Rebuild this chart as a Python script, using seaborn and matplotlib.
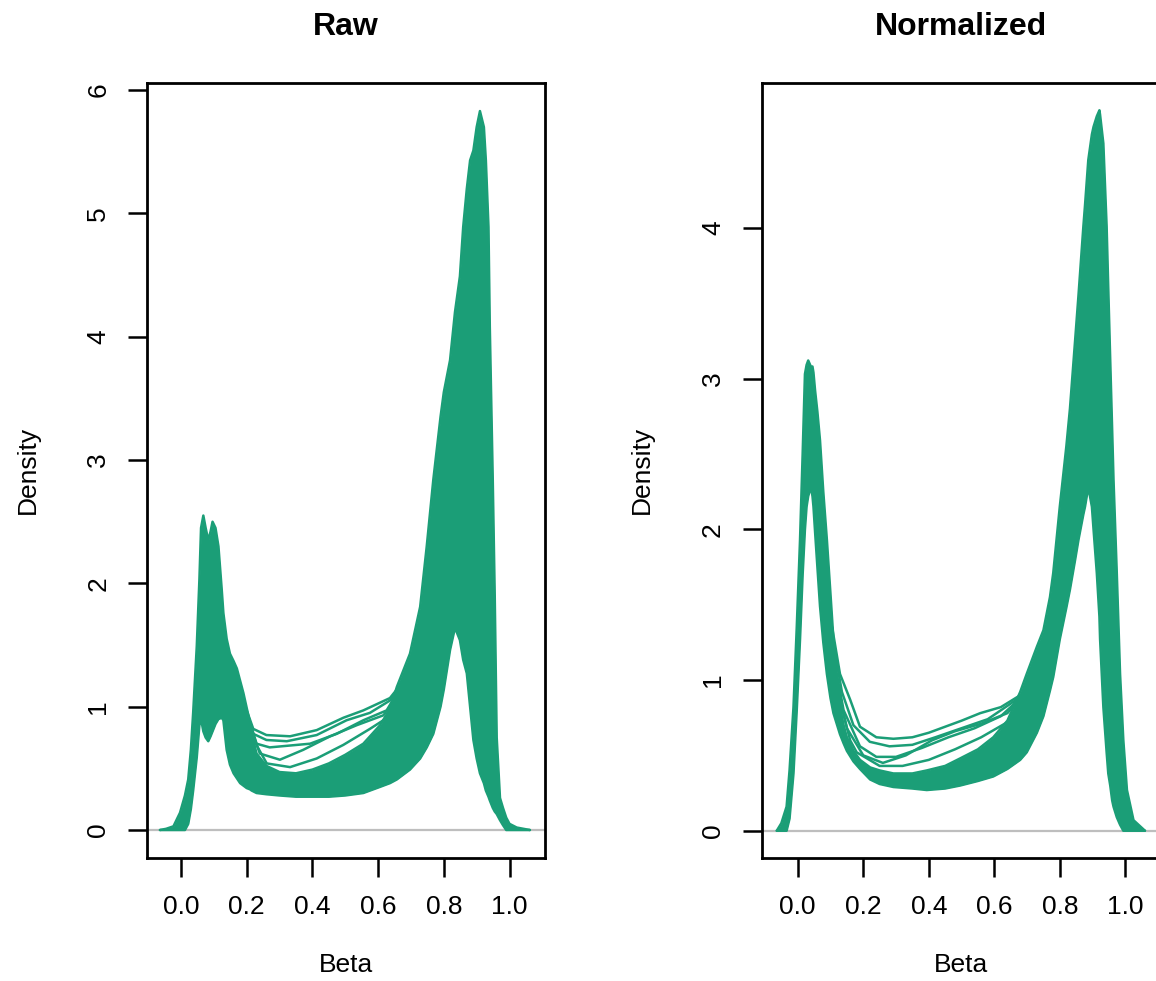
import matplotlib
matplotlib.use("Agg")
import matplotlib.pyplot as plt
import seaborn as sns

GREEN = "#1B9E77"

# ----- Raw panel: envelope of all sample density curves -----
raw_x = [-0.064, -0.045, -0.023, -0.003, 0.012, 0.022, 0.030, 0.037, 0.048, 0.056,
         0.061, 0.068, 0.075, 0.083, 0.090, 0.096, 0.105, 0.114, 0.124, 0.129,
         0.139, 0.149, 0.160, 0.170, 0.180, 0.190, 0.200, 0.210, 0.215, 0.230,
         0.260, 0.300, 0.350, 0.400, 0.450, 0.500, 0.555, 0.606, 0.636, 0.657,
         0.697, 0.728, 0.748, 0.768, 0.790, 0.800, 0.819, 0.834, 0.849, 0.859,
         0.870, 0.880, 0.890, 0.900, 0.910, 0.922, 0.928, 0.936, 0.940, 0.949,
         0.955, 0.961, 0.971, 0.980, 0.990, 1.000, 1.022, 1.062]
raw_low = [0, 0, 0, 0, 0, 0.05, 0.17, 0.32, 0.59, 0.85,
           0.90, 0.80, 0.75, 0.72, 0.76, 0.80, 0.86, 0.90, 0.91, 0.89,
           0.65, 0.53, 0.46, 0.42, 0.38, 0.36, 0.34, 0.33, 0.32, 0.30,
           0.29, 0.28, 0.27, 0.27, 0.27, 0.28, 0.30, 0.35, 0.38, 0.41,
           0.49, 0.58, 0.67, 0.78, 1.00, 1.14, 1.46, 1.64, 1.54, 1.38,
           1.27, 1.00, 0.73, 0.58, 0.46, 0.38, 0.32, 0.27, 0.24, 0.18,
           0.15, 0.13, 0.08, 0.04, 0, 0, 0, 0]
raw_high = [0, 0.01, 0.03, 0.14, 0.28, 0.41, 0.65, 0.95, 1.49, 2.03,
            2.45, 2.55, 2.45, 2.35, 2.42, 2.50, 2.45, 2.30, 1.95, 1.76,
            1.55, 1.43, 1.37, 1.31, 1.21, 1.11, 0.99, 0.87, 0.78, 0.62,
            0.52, 0.47, 0.46, 0.49, 0.54, 0.61, 0.70, 0.85, 0.98, 1.16,
            1.43, 1.81, 2.30, 2.84, 3.35, 3.55, 3.81, 4.20, 4.49, 4.89,
            5.20, 5.43, 5.51, 5.70, 5.83, 5.70, 5.43, 4.89, 4.08, 2.84,
            1.90, 0.75, 0.26, 0.18, 0.10, 0.05, 0.02, 0]

# separate samples lying above the bulk in the valley
raw_a_x = [0.200, 0.220, 0.260, 0.332, 0.413, 0.494, 0.555, 0.636, 0.660]
raw_a_y = [0.97, 0.82, 0.77, 0.76, 0.81, 0.91, 0.97, 1.07, 1.15]
raw_b_x = [0.200, 0.220, 0.260, 0.322, 0.413, 0.504, 0.575, 0.636, 0.660]
raw_b_y = [0.95, 0.78, 0.73, 0.72, 0.77, 0.89, 0.95, 1.05, 1.13]
raw_c_x = [0.205, 0.230, 0.270, 0.311, 0.393, 0.474, 0.555, 0.626, 0.655]
raw_c_y = [0.92, 0.70, 0.67, 0.68, 0.70, 0.78, 0.89, 0.97, 1.10]
raw_d_x = [0.210, 0.240, 0.301, 0.372, 0.454, 0.535, 0.616, 0.650]
raw_d_y = [0.85, 0.62, 0.57, 0.65, 0.76, 0.85, 0.93, 1.05]
raw_e_x = [0.215, 0.261, 0.332, 0.413, 0.494, 0.575, 0.616, 0.645]
raw_e_y = [0.76, 0.54, 0.51, 0.58, 0.69, 0.82, 0.89, 1.00]

# ----- Normalized panel -----
norm_x = [-0.064, -0.050, -0.034, -0.025, -0.013, -0.003, 0.007, 0.015, 0.022, 0.027,
          0.032, 0.040, 0.045, 0.048, 0.053, 0.060, 0.068, 0.078, 0.089, 0.100,
          0.109, 0.119, 0.129, 0.140, 0.150, 0.170, 0.190, 0.221, 0.250, 0.292,
          0.350, 0.394, 0.450, 0.496, 0.550, 0.597, 0.640, 0.679, 0.699, 0.730,
          0.750, 0.770, 0.780, 0.800, 0.820, 0.831, 0.847, 0.857, 0.872, 0.877,
          0.887, 0.898, 0.903, 0.913, 0.921, 0.923, 0.933, 0.943, 0.948, 0.954,
          0.960, 0.964, 0.974, 0.984, 0.994, 1.005, 1.025, 1.060]
norm_low = [0, 0, 0, 0.08, 0.38, 0.80, 1.27, 1.70, 2.00, 2.15,
            2.22, 2.28, 2.22, 2.15, 1.98, 1.75, 1.49, 1.25, 1.04, 0.88,
            0.78, 0.71, 0.64, 0.58, 0.53, 0.46, 0.41, 0.34, 0.31, 0.29,
            0.28, 0.27, 0.28, 0.30, 0.33, 0.36, 0.41, 0.47, 0.52, 0.65,
            0.76, 0.93, 1.02, 1.27, 1.48, 1.60, 1.80, 1.93, 2.10, 2.15,
            2.28, 2.15, 2.00, 1.71, 1.42, 1.27, 0.82, 0.52, 0.38, 0.30,
            0.20, 0.16, 0.09, 0.04, 0, 0, 0, 0]
norm_high = [0, 0.05, 0.16, 0.40, 0.82, 1.35, 1.93, 2.50, 3.03, 3.09,
             3.12, 3.08, 3.08, 3.04, 2.92, 2.78, 2.59, 2.25, 1.93, 1.57,
             1.27, 1.00, 0.82, 0.70, 0.62, 0.53, 0.47, 0.42, 0.40, 0.38,
             0.38, 0.40, 0.43, 0.48, 0.54, 0.62, 0.73, 0.92, 1.04, 1.22,
             1.33, 1.55, 1.71, 2.15, 2.55, 2.80, 3.26, 3.55, 4.01, 4.15,
             4.45, 4.62, 4.67, 4.74, 4.78, 4.75, 4.56, 4.01, 3.60, 3.12,
             2.65, 2.33, 1.71, 1.04, 0.60, 0.27, 0.07, 0]

norm_a_x = [0.105, 0.129, 0.160, 0.190, 0.240, 0.292, 0.350, 0.400, 0.450, 0.500, 0.557, 0.620, 0.680]
norm_a_y = [1.35, 1.04, 0.87, 0.69, 0.62, 0.61, 0.62, 0.65, 0.69, 0.73, 0.78, 0.82, 0.90]
norm_b_x = [0.108, 0.135, 0.170, 0.220, 0.280, 0.350, 0.420, 0.500, 0.580, 0.675]
norm_b_y = [1.25, 0.92, 0.70, 0.59, 0.56, 0.57, 0.62, 0.68, 0.74, 0.88]
norm_c_x = [0.110, 0.140, 0.190, 0.240, 0.300, 0.380, 0.460, 0.540, 0.620, 0.670]
norm_c_y = [1.15, 0.80, 0.56, 0.49, 0.49, 0.55, 0.62, 0.68, 0.76, 0.86]
norm_d_x = [0.112, 0.150, 0.200, 0.260, 0.330, 0.410, 0.480, 0.560, 0.640, 0.672]
norm_d_y = [1.05, 0.68, 0.50, 0.45, 0.50, 0.60, 0.66, 0.71, 0.78, 0.86]
norm_e_x = [0.115, 0.160, 0.180, 0.250, 0.320, 0.400, 0.480, 0.560, 0.640, 0.668]
norm_e_y = [0.98, 0.60, 0.52, 0.43, 0.43, 0.47, 0.54, 0.62, 0.72, 0.82]

x_ticks = [0.0, 0.2, 0.4, 0.6, 0.8, 1.0]
x_labels = ["0.0", "0.2", "0.4", "0.6", "0.8", "1.0"]

sns.set_style("white")
plt.rcParams["font.family"] = ["Liberation Sans", "DejaVu Sans"]
plt.rcParams["text.color"] = "black"
plt.rcParams["axes.labelcolor"] = "black"
plt.rcParams["xtick.color"] = "black"
plt.rcParams["ytick.color"] = "black"


def draw_panel(ax, x, low, high, extra, title, xlim, ylim, yticks):
    ax.axhline(0, color="#BEBEBE", lw=1.6, zorder=1)
    ax.fill_between(x, low, high, color=GREEN, lw=0, zorder=2)
    for yy in (low, high):
        sns.lineplot(x=x, y=yy, ax=ax, color=GREEN, lw=1.8,
                     estimator=None, sort=False, zorder=3)
    for ex, ey in extra:
        sns.lineplot(x=ex, y=ey, ax=ax, color=GREEN, lw=1.8,
                     estimator=None, sort=False, zorder=3)
    ax.set_xlim(*xlim)
    ax.set_ylim(*ylim)
    ax.set_xticks(x_ticks)
    ax.set_xticklabels(x_labels)
    ax.set_yticks(yticks)
    ax.set_yticklabels([str(t) for t in yticks])
    ax.tick_params(axis="both", which="major", bottom=True, left=True,
                   direction="out", length=13.5, width=1.8, color="black",
                   labelcolor="black", labelsize=19, pad=13)
    ax.tick_params(axis="y", labelrotation=90)
    for lab in ax.get_yticklabels():
        lab.set_va("center")
    for sp in ax.spines.values():
        sp.set_visible(True)
        sp.set_color("black")
        sp.set_linewidth(2)
    ax.set_title(title, fontsize=23, fontweight="bold", pad=34, color="black")
    ax.set_xlabel("Beta", fontsize=19, color="black")
    ax.set_ylabel("Density", fontsize=19, color="black")
    ax.xaxis.set_label_coords(0.5, -0.122)
    ax.yaxis.set_label_coords(-0.27, 0.5)


fig = plt.figure(figsize=(11.56, 9.81), dpi=100)
ax1 = fig.add_axes([0.12716, 0.12538, 0.34429, 0.79032])
ax2 = fig.add_axes([0.65891, 0.12538, 0.34429, 0.79032])

draw_panel(ax1, raw_x, raw_low, raw_high,
           [(raw_a_x, raw_a_y), (raw_b_x, raw_b_y), (raw_c_x, raw_c_y),
            (raw_d_x, raw_d_y), (raw_e_x, raw_e_y)],
           "Raw", (-0.1035, 1.108), (-0.227, 6.06), [0, 1, 2, 3, 4, 5, 6])
draw_panel(ax2, norm_x, norm_low, norm_high,
           [(norm_a_x, norm_a_y), (norm_b_x, norm_b_y), (norm_c_x, norm_c_y),
            (norm_d_x, norm_d_y), (norm_e_x, norm_e_y)],
           "Normalized", (-0.110, 1.105), (-0.181, 4.963), [0, 1, 2, 3, 4])

fig.savefig("out.png", dpi=100)
